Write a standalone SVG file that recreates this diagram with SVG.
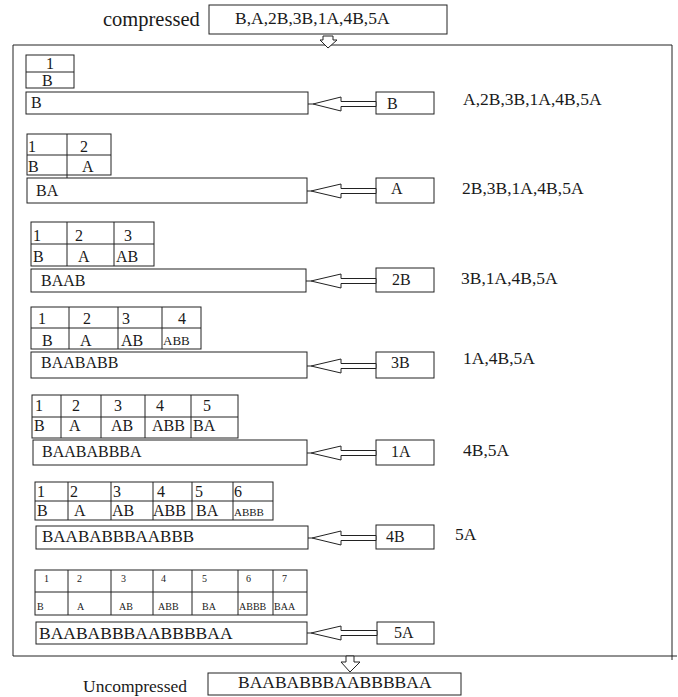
<svg xmlns="http://www.w3.org/2000/svg" width="678" height="697" viewBox="0 0 678 697">
<style>
text{font-family:"Liberation Serif","Times New Roman",serif;fill:#1a1a1a;font-size:16px}
.box{fill:#fff;stroke:#222;stroke-width:1}
.ln{stroke:#222;stroke-width:1;fill:none}
.arr{fill:#fff;stroke:#222;stroke-width:1}
.r{font-size:17.5px}
.s13{font-size:13px}
.s11{font-size:11px}
.s10{font-size:10px}
</style>
<rect width="678" height="697" fill="#fff"/>

<g id="header">
<text x="103" y="26" style="font-size:20.5px">compressed</text>
<rect class="box" x="209" y="5" width="238" height="29"/>
<text x="235" y="24" style="font-size:17.5px">B,A,2B,3B,1A,4B,5A</text>
</g>

<g id="frame">
<path class="ln" d="M13,45 H672 M13,45 V656 M672,45 V660 M13,656 H677"/>
</g>

<g id="step1">
<rect class="box" x="26" y="55" width="48" height="33"/>
<line class="ln" x1="26" y1="72" x2="74" y2="72"/>
<text x="46" y="69">1</text><text x="42" y="86">B</text>
<rect class="box" x="26" y="92" width="282" height="22"/>
<text x="31" y="108">B</text>
<rect class="box" x="376" y="92" width="58" height="22"/>
<text x="387" y="109">B</text>
<text class="r" x="463" y="105">A,2B,3B,1A,4B,5A</text>
</g>

<g id="step2">
<rect class="box" x="27" y="134" width="84" height="41"/>
<line class="ln" x1="27" y1="155" x2="111" y2="155"/>
<line class="ln" x1="67" y1="134" x2="67" y2="178"/>
<text x="28" y="152">1</text><text x="80" y="152">2</text>
<text x="28" y="172">B</text><text x="82" y="172">A</text>
<rect class="box" x="27" y="178" width="280" height="25"/>
<text x="36" y="196">BA</text>
<rect class="box" x="376" y="178" width="58" height="25"/>
<text x="391" y="194">A</text>
<text class="r" x="462" y="194">2B,3B,1A,4B,5A</text>
</g>

<g id="step3">
<rect class="box" x="31" y="222" width="123" height="44"/>
<line class="ln" x1="31" y1="244" x2="154" y2="244"/>
<line class="ln" x1="67" y1="222" x2="67" y2="266"/>
<line class="ln" x1="114" y1="222" x2="114" y2="266"/>
<text x="33" y="241">1</text><text x="75" y="241">2</text><text x="124" y="241">3</text>
<text x="33" y="262">B</text><text x="78" y="262">A</text><text x="116" y="262">AB</text>
<rect class="box" x="31" y="269" width="275" height="23"/>
<text x="41" y="286">BAAB</text>
<rect class="box" x="376" y="268" width="58" height="24"/>
<text x="392" y="285">2B</text>
<text class="r" x="461" y="284">3B,1A,4B,5A</text>
</g>

<g id="step4">
<rect class="box" x="31" y="307" width="170" height="42"/>
<line class="ln" x1="31" y1="328" x2="201" y2="328"/>
<line class="ln" x1="69" y1="307" x2="69" y2="349"/>
<line class="ln" x1="118" y1="307" x2="118" y2="349"/>
<line class="ln" x1="162" y1="307" x2="162" y2="349"/>
<text x="38" y="324">1</text><text x="83" y="324">2</text><text x="122" y="324">3</text><text x="178" y="324">4</text>
<text x="42" y="346">B</text><text x="80" y="346">A</text><text x="121" y="346">AB</text><text class="s13" x="163" y="345">ABB</text>
<rect class="box" x="31" y="352" width="276" height="26"/>
<text x="41" y="368">BAABABB</text>
<rect class="box" x="376" y="352" width="58" height="26"/>
<text x="391" y="368">3B</text>
<text class="r" x="463" y="364">1A,4B,5A</text>
</g>

<g id="step5">
<rect class="box" x="32" y="395" width="206" height="43"/>
<line class="ln" x1="32" y1="417" x2="238" y2="417"/>
<line class="ln" x1="61" y1="395" x2="61" y2="438"/>
<line class="ln" x1="101" y1="395" x2="101" y2="438"/>
<line class="ln" x1="145" y1="395" x2="145" y2="438"/>
<line class="ln" x1="191" y1="395" x2="191" y2="438"/>
<text x="35" y="411">1</text><text x="72" y="411">2</text><text x="114" y="411">3</text><text x="156" y="411">4</text><text x="203" y="411">5</text>
<text x="34" y="431">B</text><text x="69" y="431">A</text><text x="111" y="431">AB</text><text x="152" y="431">ABB</text><text x="193" y="431">BA</text>
<rect class="box" x="33" y="440" width="274" height="25"/>
<text x="42" y="457">BAABABBBA</text>
<rect class="box" x="376" y="440" width="58" height="25"/>
<text x="391" y="457">1A</text>
<text class="r" x="463" y="456">4B,5A</text>
</g>

<g id="step6">
<rect class="box" x="35" y="482" width="238" height="38"/>
<line class="ln" x1="35" y1="501" x2="273" y2="501"/>
<line class="ln" x1="68" y1="482" x2="68" y2="520"/>
<line class="ln" x1="111" y1="482" x2="111" y2="520"/>
<line class="ln" x1="153" y1="482" x2="153" y2="520"/>
<line class="ln" x1="192" y1="482" x2="192" y2="520"/>
<line class="ln" x1="233" y1="482" x2="233" y2="520"/>
<text x="37" y="497">1</text><text x="70" y="497">2</text><text x="113" y="497">3</text><text x="157" y="497">4</text><text x="195" y="497">5</text><text x="234" y="497">6</text>
<text x="37" y="516">B</text><text x="74" y="516">A</text><text x="112" y="516">AB</text><text x="153" y="516">ABB</text><text x="196" y="516">BA</text><text class="s11" x="234" y="516">ABBB</text>
<rect class="box" x="36" y="526" width="272" height="23"/>
<text x="42" y="542" style="font-size:17px">BAABABBBAABBB</text>
<rect class="box" x="376" y="525" width="58" height="24"/>
<text x="386" y="542">4B</text>
<text class="r" x="455" y="540">5A</text>
</g>

<g id="step7">
<rect class="box" x="35" y="570" width="272" height="45"/>
<line class="ln" x1="35" y1="592" x2="307" y2="592"/>
<line class="ln" x1="68" y1="570" x2="68" y2="615"/>
<line class="ln" x1="111" y1="570" x2="111" y2="615"/>
<line class="ln" x1="153" y1="570" x2="153" y2="615"/>
<line class="ln" x1="192" y1="570" x2="192" y2="615"/>
<line class="ln" x1="238" y1="570" x2="238" y2="615"/>
<line class="ln" x1="273" y1="570" x2="273" y2="615"/>
<g class="s10">
<text class="s10" x="44" y="582">1</text><text class="s10" x="77" y="582">2</text><text class="s10" x="121" y="582">3</text><text class="s10" x="161" y="582">4</text><text class="s10" x="202" y="582">5</text><text class="s10" x="246" y="582">6</text><text class="s10" x="282" y="582">7</text>
<text class="s10" x="37" y="610">B</text><text class="s10" x="77" y="610">A</text><text class="s10" x="119" y="610">AB</text><text class="s10" x="158" y="610">ABB</text><text class="s10" x="202" y="610">BA</text><text class="s10" x="239" y="610">ABBB</text><text class="s10" x="274" y="610">BAA</text>
</g>
<rect class="box" x="36" y="622" width="271" height="22"/>
<text x="39" y="639" style="font-size:17.5px">BAABABBBAABBBBAA</text>
<rect class="box" x="377" y="622" width="57" height="22"/>
<text x="394" y="638">5A</text>
</g>

<g id="footer">
<text x="83" y="692" style="font-size:17.5px">Uncompressed</text>
<rect class="box" x="208" y="673" width="253" height="22"/>
<text x="238" y="688" style="font-size:17.5px">BAABABBBAABBBBAA</text>
</g>

<g id="connectors">
<path class="arr" d="M323,36 H333 V40 H337 L328,48 L320,40 H323 Z"/>
<path class="arr" d="M313,104 L341,97 V101.5 H376 V106.5 H341 V111 Z"/><line class="ln" x1="308" y1="104" x2="313" y2="104"/>
<path class="arr" d="M311,191 L341,184 V188.5 H376 V193.5 H341 V198 Z"/><line class="ln" x1="307" y1="191" x2="311" y2="191"/>
<path class="arr" d="M311,281 L341,274 V278.5 H376 V283.5 H341 V288 Z"/><line class="ln" x1="306" y1="281" x2="311" y2="281"/>
<path class="arr" d="M311,366 L341,359 V363.5 H376 V368.5 H341 V373 Z"/><line class="ln" x1="307" y1="366" x2="311" y2="366"/>
<path class="arr" d="M311,453 L341,446 V450.5 H376 V455.5 H341 V460 Z"/><line class="ln" x1="307" y1="453" x2="311" y2="453"/>
<path class="arr" d="M312,538 L341,531 V535.5 H376 V540.5 H341 V545 Z"/><line class="ln" x1="308" y1="538" x2="312" y2="538"/>
<path class="arr" d="M311,633 L341,626 V630.5 H377 V635.5 H341 V640 Z"/><line class="ln" x1="307" y1="633" x2="311" y2="633"/>
<path class="arr" d="M346,656 H354 V662 H360 L350,672 L341,662 H346 Z"/>
</g>
</svg>
